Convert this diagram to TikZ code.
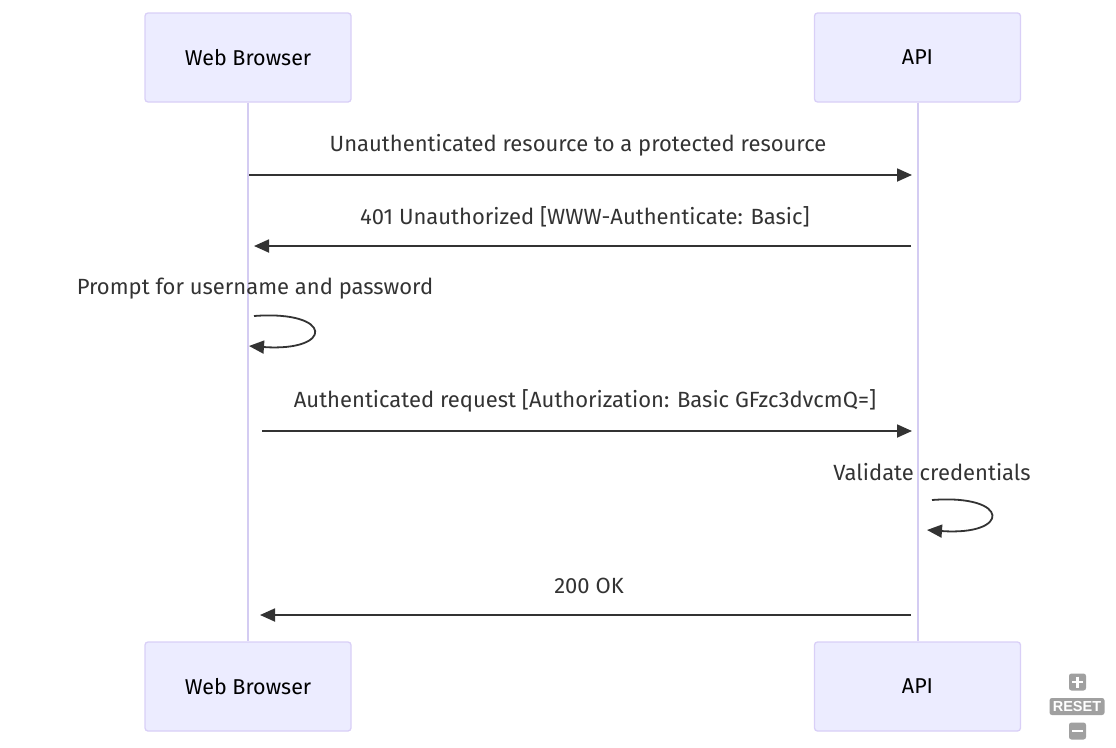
\documentclass[tikz,border=0pt]{standalone}
\usepackage{fontspec}
\setmainfont{Fira Sans}
\newfontfamily\ctrlfont{Liberation Sans}
\usetikzlibrary{arrows.meta}
\definecolor{boxfill}{HTML}{ECECFF}
\definecolor{boxline}{HTML}{D9CFF7}
\definecolor{lifeline}{HTML}{D4CCF2}
\definecolor{msg}{HTML}{333333}
\definecolor{ctrl}{HTML}{A0A0A0}
\tikzset{
  actor/.style={draw=boxline, fill=boxfill, line width=1.3pt, rounded corners=3pt,
    minimum width=206pt, minimum height=89pt, inner sep=0pt, font=\fontsize{21.5}{24}\selectfont},
  life/.style={draw=lifeline, line width=2pt},
  msgline/.style={draw=msg, line width=1.8pt, -{Triangle[length=15pt,width=13pt]}},
  lbl/.style={font=\fontsize{22}{24}\selectfont, text=msg, inner sep=0pt},
  ctrlbox/.style={fill=ctrl, rounded corners=2.5pt, inner sep=0pt},
}
\begin{document}
\begin{tikzpicture}[x=1pt,y=-1pt]
\useasboundingbox (0,0) rectangle (1116,747);
% actors
\node[actor] (wbT) at (248,57.5) {Web Browser};
\node[actor] (apiT) at (917.5,57.5) {API};
\node[actor] (wbB) at (248,686.5) {Web Browser};
\node[actor] (apiB) at (917.5,686.5) {API};
% lifelines
\draw[life] (wbT.south) -- (wbB.north);
\draw[life] (apiT.south) -- (apiB.north);
% message 1
\coordinate (m1s) at (249,175);
\coordinate (m1e) at (912,175);
\draw[msgline] (m1s) -- (m1e);
\node[lbl] (t1) at (578,145.5) {Unauthenticated resource to a protected resource};
% message 2
\coordinate (m2s) at (911,246);
\coordinate (m2e) at (254,246);
\draw[msgline] (m2s) -- (m2e);
\node[lbl] (t2) at (585,216.5) {401 Unauthorized [WWW-Authenticate: Basic]};
% self loop 1
\node[lbl] (t3) at (255,288.5) {Prompt for username and password};
\coordinate (l1s) at (254,316);
\coordinate (l1e) at (249,346);
\draw[msgline] (l1s) .. controls (334,310) and (334,352) .. (l1e);
% message 3
\coordinate (m3s) at (262,431);
\coordinate (m3e) at (912,431);
\draw[msgline] (m3s) -- (m3e);
\node[lbl] (t4) at (585,400.5) {Authenticated request [Authorization: Basic GFzc3dvcmQ=]};
% self loop 2
\node[lbl] (t5) at (932,472.5) {Validate credentials};
\coordinate (l2s) at (932,500);
\coordinate (l2e) at (927,530);
\draw[msgline] (l2s) .. controls (1011,494) and (1011,536) .. (l2e);
% message 4
\coordinate (m4s) at (911,615);
\coordinate (m4e) at (260,615);
\draw[msgline] (m4s) -- (m4e);
\node[lbl] (t6) at (589,585.5) {200 OK};
% controls
\node[ctrlbox, minimum width=17pt, minimum height=17pt] (plus) at (1077.5,682) {};
\draw[white, line width=2.8pt] (1072,682) -- (1083,682) (1077.5,676.5) -- (1077.5,687.5);
\node[ctrlbox, minimum width=55pt, minimum height=17pt, text=white,
  font=\ctrlfont\bfseries\fontsize{14.5}{15}\selectfont] (reset) at (1077,706.5) {RESET};
\node[ctrlbox, minimum width=17pt, minimum height=17pt] (minus) at (1077.5,731) {};
\draw[white, line width=2.8pt] (1072,731) -- (1083,731);
\end{tikzpicture}
\end{document}
